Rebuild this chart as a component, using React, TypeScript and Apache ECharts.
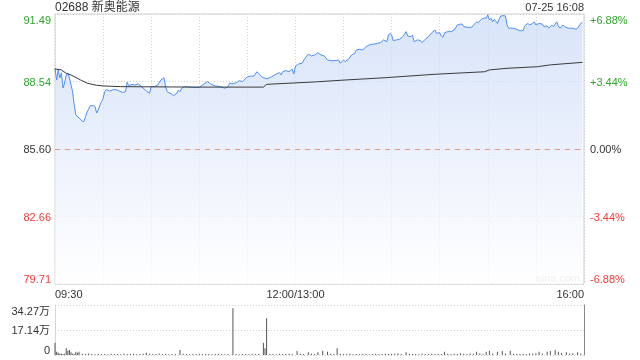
import React, { useEffect, useRef } from "react";
import * as echarts from "echarts";

const title = "02688 新奥能源";
const stamp = "07-25 16:08";
const prevClose = 85.6;

// [minute since 09:30 (trading minutes), price]
const pricePoints: [number, number][] = [
  [0, 89.12], [1, 88.61], [2, 89.05], [3, 88.7], [4, 88.92], [5, 88.26], [6, 88.48], [7, 88.83], [8, 88.92], [9, 88.7],
  [11, 88.09], [12, 87.52], [13, 87.08], [15, 86.95], [17, 86.82], [18, 86.79], [19, 87.01], [20, 87.21], [22, 87.49], [24, 87.49],
  [25, 87.45], [26, 87.17], [27, 87.3], [28, 87.52], [29, 87.66], [30, 87.81], [31, 88.1], [32, 88.2], [34, 88.13], [37, 88.2],
  [39, 88.17], [42, 88.07], [44, 88.1], [45, 88.51], [46, 88.36], [48, 88.42], [50, 88.39], [52, 88.44], [54, 88.32], [57, 88.13],
  [59, 88.03], [60, 88.32], [62, 88.32], [64, 88.39], [66, 88.61], [68, 88.71], [69, 88.32], [70, 88.1], [73, 87.99], [74, 87.93],
  [76, 88.03], [77, 88.17], [78, 88.1], [79, 88.25], [81, 88.32], [85, 88.29], [90, 88.29], [92, 88.39], [95, 88.54], [97, 88.44],
  [100, 88.35], [103, 88.32], [106, 88.25], [108, 88.32], [109, 88.47], [111, 88.44], [113, 88.49], [115, 88.58], [117, 88.54], [120, 88.75],
  [122, 88.78], [124, 88.78], [126, 88.97], [127, 88.9], [129, 88.75], [131, 88.68], [133, 88.68], [135, 88.75], [138, 88.87], [140, 88.93],
  [141, 88.83], [142, 88.97], [144, 89.02], [146, 88.97], [148, 89.08], [149, 88.87], [150, 89.22], [152, 89.31], [154, 89.34], [156, 89.56],
  [158, 89.74], [160, 89.66], [162, 89.7], [164, 89.8], [166, 89.7], [168, 89.66], [170, 89.48], [173, 89.45], [175, 89.46], [177, 89.48],
  [178, 89.34], [180, 89.48], [181, 89.41], [183, 89.51], [185, 89.7], [187, 89.78], [188, 89.92], [190, 89.95], [192, 89.92], [194, 90.06],
  [196, 90.14], [199, 90.18], [201, 90.21], [203, 90.24], [205, 90.36], [207, 90.28], [208, 90.57], [209, 90.65], [210, 90.57], [211, 90.33],
  [213, 90.36], [215, 90.39], [217, 90.5], [219, 90.72], [220, 90.53], [222, 90.5], [223, 90.57], [224, 90.28], [226, 90.36], [228, 90.33],
  [229, 90.24], [231, 90.39], [233, 90.5], [235, 90.67], [237, 90.79], [238, 90.65], [240, 90.67], [241, 90.53], [242, 90.47], [243, 90.67],
  [245, 90.72], [247, 90.72], [249, 90.79], [251, 91.01], [253, 91.05], [254, 91.05], [255, 90.94], [257, 90.91], [260, 90.91], [262, 91.08],
  [263, 91.15], [264, 91.11], [266, 91.26], [268, 91.32], [269, 91.3], [270, 91.45], [271, 91.23], [272, 91.3], [273, 91.15], [274, 91.26],
  [276, 91.08], [277, 91.26], [278, 91.4], [280, 91.42], [281, 91.4], [282, 91.01], [283, 90.87], [286, 90.87], [288, 90.82], [290, 90.76],
  [292, 90.76], [293, 90.97], [295, 91.08], [296, 91.01], [298, 91.08], [299, 91.15], [300, 91.01], [302, 91.08], [304, 91.05], [305, 90.94],
  [307, 90.97], [308, 90.87], [310, 91.01], [311, 90.94], [313, 91.15], [314, 90.97], [315, 90.87], [317, 91.01], [318, 90.94], [320, 90.87],
  [321, 90.87], [323, 90.87], [325, 90.82], [326, 90.87], [328, 91.08], [329, 91.11],
];

const avgPoints: [number, number][] = [
  [0, 89.09], [4, 89.05], [7, 88.9], [10, 88.83], [16, 88.61], [20, 88.47], [26, 88.38], [30, 88.35], [41, 88.32], [90, 88.3],
  [130, 88.3], [132, 88.42], [163, 88.53], [181, 88.61], [206, 88.71], [237, 88.86], [268, 88.97], [271, 89.05], [282, 89.12],
  [301, 89.19], [309, 89.27], [329, 89.38],
];

// [minute, volume in 万]
const volumes: [number, number][] = [
  [0, 8.4], [1, 2.3], [2, 1.6], [3, 1.0], [4, 0.8], [5, 0.6], [6, 0.9], [7, 4.6], [8, 2.9], [9, 3.4], [10, 1.8], [11, 0.9], [12, 0.7],
  [13, 2.3], [14, 1.6], [15, 2.3], [17, 0.8], [19, 0.6], [21, 1.0], [23, 0.7], [25, 0.5], [27, 0.8], [29, 0.6], [31, 0.7], [33, 0.5],
  [35, 0.9], [37, 0.6], [39, 0.7], [41, 0.5], [43, 0.8], [45, 0.6], [47, 0.7], [49, 0.9], [51, 0.5], [53, 0.6], [55, 0.8], [57, 1.5],
  [59, 0.9], [61, 0.6], [63, 0.7], [65, 1.0], [67, 0.6], [69, 0.8], [71, 0.5], [73, 0.7], [75, 0.6], [78, 3.4], [80, 0.8], [82, 0.6],
  [84, 0.5], [86, 0.7], [88, 0.6], [90, 0.8], [92, 0.5], [94, 0.6], [96, 0.7], [98, 0.5], [100, 0.6], [102, 0.8], [104, 0.7], [106, 0.5],
  [108, 0.6], [111, 32.0], [113, 0.6], [115, 0.5], [117, 0.7], [119, 0.6], [121, 0.5], [123, 0.8], [125, 0.6], [127, 0.7], [130, 8.4],
  [131, 4.6], [132, 25.2], [134, 0.7], [136, 0.6], [138, 0.5], [140, 0.8], [142, 0.6], [144, 0.7], [146, 0.9], [148, 0.6], [151, 2.7],
  [153, 0.8], [155, 0.7], [158, 1.8], [160, 0.9], [162, 0.7], [164, 1.8], [167, 2.9], [170, 2.3], [172, 0.8], [174, 0.6], [176, 4.6],
  [178, 0.9], [180, 0.7], [182, 0.6], [184, 0.8], [186, 0.5], [188, 0.7], [190, 0.6], [192, 0.8], [194, 0.7], [196, 0.5], [198, 0.6],
  [200, 0.8], [202, 0.7], [204, 0.6], [206, 0.9], [208, 0.7], [210, 0.6], [212, 0.8], [214, 1.0], [216, 0.7], [219, 1.8], [221, 0.8],
  [223, 0.6], [225, 0.7], [227, 0.5], [229, 0.8], [231, 0.6], [233, 0.7], [235, 0.9], [237, 0.6], [239, 0.8], [241, 0.7], [243, 2.3],
  [245, 0.8], [247, 0.6], [249, 0.9], [251, 0.7], [253, 1.2], [255, 0.8], [257, 0.6], [259, 1.0], [261, 0.8], [263, 2.3], [265, 1.2],
  [267, 0.9], [269, 2.3], [271, 2.9], [273, 1.0], [276, 2.3], [279, 2.7], [281, 1.1], [284, 2.9], [286, 0.9], [288, 0.7], [290, 0.6],
  [292, 0.8], [294, 0.7], [296, 1.0], [298, 0.9], [300, 1.2], [302, 2.3], [304, 1.0], [307, 2.3], [309, 2.7], [312, 3.4], [314, 2.3],
  [316, 1.4], [319, 1.8], [321, 1.0], [323, 1.2], [326, 1.8], [328, 1.0],
];

const timeTicks: Record<number, string> = { 0: "09:30", 150: "12:00/13:00", 330: "16:00" };
const priceTicks = ["79.71", "82.66", "85.60", "88.54", "91.49"];
const pctTicks = ["-6.88%", "-3.44%", "0.00%", "+3.44%", "+6.88%"];
const volTicks = ["0", "17.14万", "34.27万"];

const FONT = "'Liberation Sans', Arial, 'Noto Sans CJK SC', sans-serif";
const GREEN = "#2ea52e";
const RED = "#f03c3c";
const DARK = "#333";

const toPct = (p: number) => (p / prevClose - 1) * 100;
const tickColor = (v: any) => {
  const n = Number(v);
  if (n > 0.001) return GREEN;
  if (n < -0.001) return RED;
  return DARK;
};

export default function App() {
  const ref = useRef<HTMLDivElement>(null);
  useEffect(() => {
    if (!ref.current) return;
    const chart = echarts.init(ref.current, null, { renderer: "svg" });
    const L = 55, R = 56;
    chart.setOption({
      animation: false,
      textStyle: { fontFamily: FONT },
      grid: [
        { left: L, right: R, top: 14, height: 270, show: true, borderColor: "#cfcfcf", borderWidth: 1 },
        { left: L, right: R, top: 305, height: 50, show: false },
      ],
      xAxis: [
        {
          type: "value", gridIndex: 0, min: 0, max: 330, interval: 30,
          axisLine: { show: false }, axisTick: { show: false },
          splitLine: { show: true, lineStyle: { color: "#d0d0d0", type: [1, 2] } },
          axisLabel: {
            show: true, margin: 4, fontSize: 11, color: DARK, fontFamily: FONT,
            formatter: (v: number) => timeTicks[Math.round(v)] ?? "",
            alignMinLabel: "left", alignMaxLabel: "right",
          },
        },
        {
          type: "value", gridIndex: 1, min: 0, max: 330, interval: 30,
          axisLine: { show: false }, axisTick: { show: false }, axisLabel: { show: false },
          splitLine: { show: false },
        },
      ],
      yAxis: [
        {
          type: "value", gridIndex: 0, min: -6.88, max: 6.88, interval: 3.44, position: "left",
          axisLine: { show: false }, axisTick: { show: false },
          splitLine: { show: true, lineStyle: { color: "#d0d0d0", type: [1, 2] } },
          axisLabel: {
            margin: 4, fontSize: 11, fontFamily: FONT,
            color: tickColor,
            formatter: (_v: number, i: number) => priceTicks[i] ?? "",
            verticalAlignMinLabel: "bottom", verticalAlignMaxLabel: "top",
          },
        },
        {
          type: "value", gridIndex: 0, min: -6.88, max: 6.88, interval: 3.44, position: "right",
          axisLine: { show: false }, axisTick: { show: false }, splitLine: { show: false },
          axisLabel: {
            margin: 6, fontSize: 11, fontFamily: FONT,
            color: tickColor,
            formatter: (_v: number, i: number) => pctTicks[i] ?? "",
            verticalAlignMinLabel: "bottom", verticalAlignMaxLabel: "top",
          },
        },
        {
          type: "value", gridIndex: 1, min: 0, max: 34.27, interval: 17.135, position: "left",
          axisLine: { show: true, lineStyle: { color: "#d6d6d6" } }, axisTick: { show: false },
          splitLine: { show: true, lineStyle: { color: "#cfcfcf", type: [1, 2] } },
          axisLabel: {
            margin: 5, fontSize: 11, fontFamily: FONT, color: DARK,
            formatter: (_v: number, i: number) => volTicks[i] ?? "",
            verticalAlignMinLabel: "bottom", verticalAlignMaxLabel: "top",
            padding: [0, 0, 0, 0],
          },
        },
        {
          type: "value", gridIndex: 1, min: 0, max: 34.27, position: "right",
          axisLine: { show: true, lineStyle: { color: "#888" } }, axisTick: { show: false },
          axisLabel: { show: false }, splitLine: { show: false },
        },
      ],
      series: [
        {
          type: "line", xAxisIndex: 0, yAxisIndex: 0,
          data: pricePoints.map(([m, p]) => [m, toPct(p)]),
          showSymbol: false, symbol: "none",
          lineStyle: { color: "#4f8ef2", width: 1 },
          areaStyle: {
            origin: "start",
            color: new echarts.graphic.LinearGradient(0, 0, 0, 1, [
              { offset: 0, color: "#c8d9f7" },
              { offset: 0.5, color: "#e3ebfb" },
              { offset: 1, color: "#ffffff" },
            ]),
          },
          markLine: {
            silent: true, symbol: "none", label: { show: false },
            lineStyle: { color: "#e59a7c", type: [5, 5], width: 1 },
            data: [{ yAxis: 0 }],
          },
          z: 3,
        },
        {
          type: "line", xAxisIndex: 0, yAxisIndex: 0,
          data: avgPoints.map(([m, p]) => [m, toPct(p)]),
          showSymbol: false, symbol: "none",
          lineStyle: { color: "#3a3a3a", width: 1 },
          z: 4,
        },
        {
          type: "bar", xAxisIndex: 1, yAxisIndex: 2,
          data: volumes,
          barWidth: 1,
          itemStyle: { color: "#555" },
        },
      ],
      graphic: [
        { type: "text", left: 55, top: 1, style: { text: title, font: `12px ${FONT}`, fill: DARK } },
        { type: "text", right: 56, top: 1, style: { text: stamp, font: `11px ${FONT}`, fill: DARK } },
        { type: "text", right: 60, top: 272, style: { text: "sina.com", font: `11px ${FONT}`, fill: "#cfcfcf" } },
      ],
    });
    return () => chart.dispose();
  }, []);
  return <div ref={ref} style={{ position: "fixed", left: 0, top: 0, width: 640, height: 360 }} />;
}
